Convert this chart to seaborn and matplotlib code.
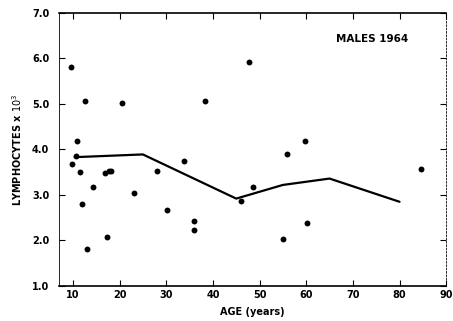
import matplotlib
matplotlib.use("Agg")
import matplotlib.pyplot as plt
import seaborn as sns
import pandas as pd

# Scatter data: age (years) vs lymphocytes x 10^3
ages = [9.7, 10.9, 12.7, 9.9, 10.6, 11.6, 11.9, 13.1, 14.3, 16.8, 17.7, 18.2,
        17.4, 20.5, 23.1, 28.1, 30.1, 33.8, 35.9, 35.9, 38.4, 46.0, 47.7, 48.7,
        55.1, 55.8, 59.7, 60.1, 84.7]
lymph = [5.80, 4.18, 5.07, 3.68, 3.85, 3.51, 2.80, 1.82, 3.17, 3.49, 3.52, 3.53,
         2.08, 5.02, 3.05, 3.53, 2.67, 3.75, 2.42, 2.23, 5.06, 2.87, 5.93, 3.18,
         2.04, 3.91, 4.18, 2.38, 3.56]

# Mean line
line_age = [10.4, 25, 45, 55, 65, 80]
line_val = [3.83, 3.89, 2.92, 3.22, 3.36, 2.85]

xticks = [10, 20, 30, 40, 50, 60, 70, 80, 90]
yticks = [1.0, 2.0, 3.0, 4.0, 5.0, 6.0, 7.0]

sns.set_style("ticks")
plt.rcParams['font.family'] = ['DejaVu Sans']
plt.rcParams.update({"text.color": "black", "axes.labelcolor": "black",
                     "xtick.color": "black", "ytick.color": "black"})

fig = plt.figure(figsize=(4.53, 3.21), dpi=100)
ax = fig.add_axes([0.130, 0.109, 0.855, 0.851])

pts = pd.DataFrame({"age": ages, "lymph": lymph})
ln = pd.DataFrame({"age": line_age, "lymph": line_val})

sns.lineplot(data=ln, x="age", y="lymph", ax=ax, color="black", linewidth=1.6,
             sort=False, estimator=None)
sns.scatterplot(data=pts, x="age", y="lymph", ax=ax, color="black", s=18,
                edgecolor="black", linewidth=0, zorder=3)

ax.set_xlim(7, 90)
ax.set_ylim(1.0, 7.0)
ax.set_xticks(xticks)
ax.set_xticklabels([str(t) for t in xticks], fontsize=7, fontweight="bold")
ax.set_yticks(yticks)
ax.set_yticklabels([f"{t:.1f}" for t in yticks], fontsize=7, fontweight="bold")
ax.tick_params(direction="in", length=4, width=0.8, top=True, right=True)
ax.tick_params(axis="y", pad=7)
ax.tick_params(axis="x", pad=3)
for s in ax.spines.values():
    s.set_visible(True)
    s.set_linewidth(1.0)
    s.set_color("black")
ax.spines["left"].set_linewidth(0.6)
ax.spines["right"].set_linestyle((0, (2, 2)))
ax.spines["right"].set_linewidth(0.6)
ax.spines["bottom"].set_linewidth(1.2)
ax.spines["top"].set_linewidth(1.2)

ax.set_xlabel("AGE (years)", fontsize=7, fontweight="bold", labelpad=5)
ax.set_ylabel(r"LYMPHOCYTES x $10^3$", fontsize=7, fontweight="bold", labelpad=6)
ax.text(0.715, 0.905, "MALES 1964", transform=ax.transAxes, fontsize=7.5,
        fontweight="bold", ha="left", va="center")

fig.savefig("out.png", dpi=100)
